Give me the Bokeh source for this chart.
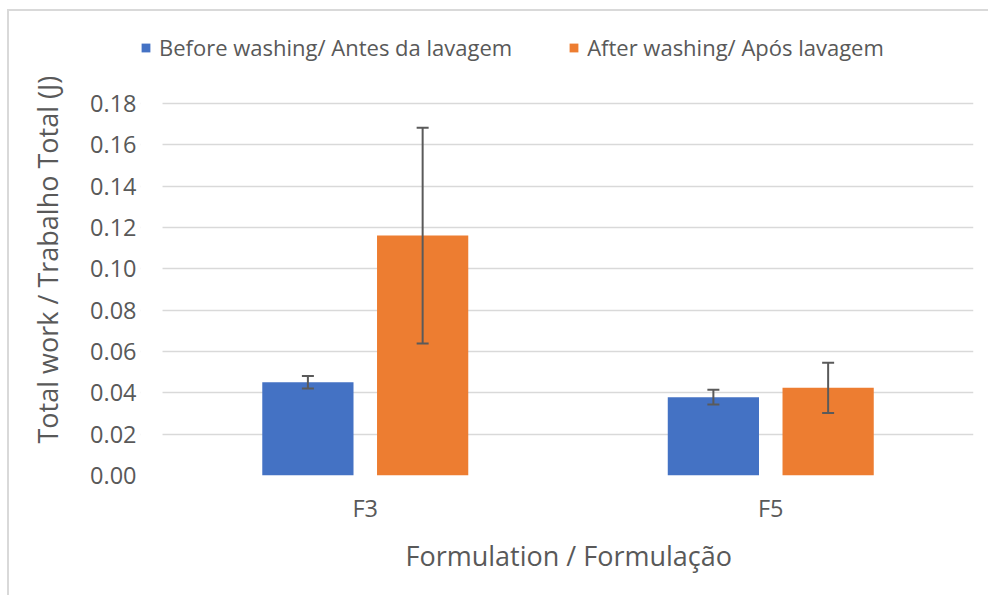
from bokeh.plotting import figure
from bokeh.models import (ColumnDataSource, Range1d, Whisker, TeeHead, BoxAnnotation,
                          Legend, LegendItem, Title, FixedTicker, NumeralTickFormatter)
from bokeh.embed import file_html
from bokeh.resources import INLINE

# ---- data ----
formulations = ["F3", "F5"]
before = [0.0451, 0.0379]
before_err = [0.0030, 0.0036]
after = [0.1161, 0.0424]
after_err = [0.0522, 0.0121]
series_names = ["Before washing/ Antes da lavagem", "After washing/ Após lavagem"]
y_ticks = [0.00, 0.02, 0.04, 0.06, 0.08, 0.10, 0.12, 0.14, 0.16, 0.18]
x_title = "Formulation / Formulação"
y_title = "Total work / Trabalho Total (J)"

BLUE = "#4472C4"
ORANGE = "#ED7D31"
GREY_TXT = "#595959"
ERR = "#5A5A5A"
FONT = "Open Sans"

# layout constants (pixels)
CAT_PX = 405          # width of one category slot
LEFT_EXTRA = 22       # frame extends this far left of the first slot (room for legend)
GRID_PX = 372         # height of the gridded area (0 .. last tick)
FRAME_PX = 455        # full frame height (extra space on top holds the legend)

cat_pos = [i + 0.5 for i in range(len(formulations))]
off = 0.1415
bw = 0.225

src = ColumnDataSource(dict(
    xb=[c - off for c in cat_pos],
    xa=[c + off for c in cat_pos],
    before=before,
    before_lo=[v - e for v, e in zip(before, before_err)],
    before_hi=[v + e for v, e in zip(before, before_err)],
    after=after,
    after_lo=[v - e for v, e in zip(after, after_err)],
    after_hi=[v + e for v, e in zip(after, after_err)],
))

p = figure(width=981, height=586, output_backend="svg", toolbar_location=None,
           x_range=Range1d(-LEFT_EXTRA / CAT_PX, len(formulations)),
           y_range=Range1d(0, y_ticks[-1] * FRAME_PX / GRID_PX),
           min_border_left=130, min_border_right=17, min_border_top=9, min_border_bottom=122)
p.styles = {"margin-left": "7px", "margin-top": "9px",
            "border-left": "2px solid #D9D9D9", "border-top": "2px solid #D9D9D9"}

p.outline_line_color = None
p.background_fill_color = "white"
p.border_fill_color = "white"

# grid
p.xgrid.grid_line_color = None
p.ygrid.grid_line_color = "#D9D9D9"
p.ygrid.grid_line_width = 1.3
p.yaxis.ticker = FixedTicker(ticks=y_ticks)
p.yaxis.formatter = NumeralTickFormatter(format="0.00")
# keep gridlines starting at the first category slot
p.add_layout(BoxAnnotation(right=0, fill_color="white", fill_alpha=1, line_color=None,
                           level="underlay"))

r1 = p.vbar(x="xb", top="before", width=bw, source=src, fill_color=BLUE, line_color=None)
r2 = p.vbar(x="xa", top="after", width=bw, source=src, fill_color=ORANGE, line_color=None)

for key, col in (("before", "xb"), ("after", "xa")):
    w = Whisker(base=col, lower=key + "_lo", upper=key + "_hi",
                source=src, line_color=ERR, line_width=2, level="overlay",
                upper_head=TeeHead(size=12, line_color=ERR, line_width=2),
                lower_head=TeeHead(size=12, line_color=ERR, line_width=2))
    p.add_layout(w)

p.xaxis.ticker = FixedTicker(ticks=cat_pos)
p.xaxis.major_label_overrides = {c: f for c, f in zip(cat_pos, formulations)}

for ax in (p.xaxis[0], p.yaxis[0]):
    ax.axis_line_color = None
    ax.major_tick_line_color = None
    ax.minor_tick_line_color = None
    ax.major_tick_out = 0
    ax.major_tick_in = 0
    ax.major_label_text_color = GREY_TXT
    ax.major_label_text_font = FONT
    ax.major_label_text_font_size = "23.5px"

p.yaxis.major_label_standoff = 4
p.xaxis.major_label_standoff = 16

xt = Title(text=x_title, align="left", vertical_align="top", offset=265, standoff=20,
           text_font=FONT, text_font_size="27px", text_font_style="normal",
           text_color=GREY_TXT)
p.add_layout(xt, "below")

yt = Title(text=y_title, align="left", vertical_align="top", offset=32, standoff=39,
           text_font=FONT, text_font_size="27px", text_font_style="normal",
           text_color=GREY_TXT)
p.add_layout(yt, "left")

legend = Legend(items=[LegendItem(label=series_names[0], renderers=[r1]),
                       LegendItem(label=series_names[1], renderers=[r2])],
                orientation="horizontal", location=(0, 413),
                glyph_width=11, glyph_height=11, label_standoff=8, spacing=56,
                padding=0, margin=0, border_line_color=None, background_fill_alpha=0,
                label_text_font=FONT, label_text_font_size="22px",
                label_text_color=GREY_TXT)
p.add_layout(legend)

open("out.html", "w").write(file_html(p, INLINE))
